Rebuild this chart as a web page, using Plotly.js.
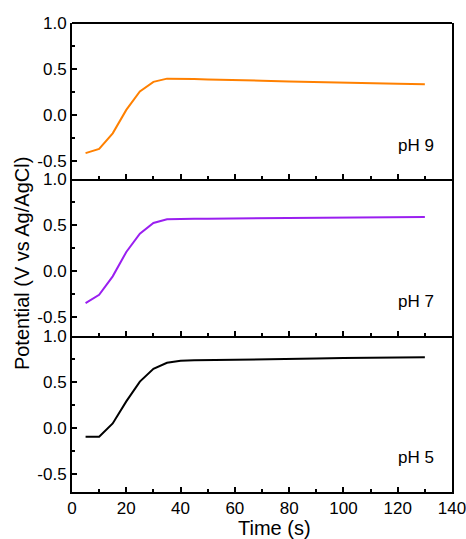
<!DOCTYPE html>
<html>
<head>
<meta charset="utf-8">
<script src="https://cdn.plot.ly/plotly-3.0.1.min.js"></script>
<style>html,body{margin:0;padding:0;background:#fff;}#chart{width:466px;height:539px;}</style>
</head>
<body>
<div id="chart"></div>
<script>
const time = [5, 10, 15, 20, 25, 30, 35, 40, 45, 50, 55, 60, 70, 80, 90, 100, 110, 120, 130];
const pH9 = [-0.415, -0.37, -0.2, 0.055, 0.255, 0.36, 0.395, 0.395, 0.39, 0.385, 0.38, 0.378, 0.372, 0.365, 0.357, 0.35, 0.345, 0.34, 0.335];
const pH7 = [-0.345, -0.255, -0.055, 0.21, 0.41, 0.525, 0.565, 0.572, 0.572, 0.572, 0.573, 0.573, 0.575, 0.578, 0.582, 0.585, 0.587, 0.589, 0.59];
const pH5 = [-0.1, -0.1, 0.045, 0.285, 0.5, 0.64, 0.705, 0.728, 0.732, 0.735, 0.737, 0.739, 0.743, 0.748, 0.752, 0.756, 0.759, 0.762, 0.764];
const panelLabels = ['pH 9', 'pH 7', 'pH 5'];
const yTickVals = [-0.5, 0, 0.5, 1.0];
const yTickText = ['-0.5', '0.0', '0.5', '1.0'];
const yMinorVals = [-0.25, 0.25, 0.75];
const xTickVals = [0, 20, 40, 60, 80, 100, 120, 140];
const xMinorVals = [10, 30, 50, 70, 90, 110, 130];
const colors = ['#ff8000', '#9a1ff0', '#000000'];

const FONT = 'Liberation Sans, Arial, sans-serif';
const series = [pH9, pH7, pH5];
const traces = series.map((s, i) => ({
  x: time, y: s, type: 'scatter', mode: 'lines',
  line: {color: colors[i], width: 2},
  xaxis: i === 2 ? 'x' : 'x' + (3 - i),
  yaxis: i === 2 ? 'y' : 'y' + (3 - i),
  showlegend: false, hoverinfo: 'skip'
}));

function xAx(anchor, showLabels) {
  return {
    anchor: anchor, range: [0, 140], domain: [0, 1],
    tickmode: 'array', tickvals: xTickVals, ticktext: xTickVals.map(String),
    showticklabels: showLabels, ticklabeloverflow: 'allow',
    ticks: 'inside', ticklen: 5, tickwidth: 2, tickcolor: '#000',
    minor: {tickmode: 'array', tickvals: xMinorVals, ticks: 'inside', ticklen: 3, tickwidth: 2, tickcolor: '#000'},
    showline: true, linewidth: 2, linecolor: '#000', mirror: false,
    showgrid: false, zeroline: false,
    tickfont: {family: FONT, size: 17, color: '#000'},
    fixedrange: true
  };
}
function yAx(domain, anchor) {
  return {
    anchor: anchor, domain: domain, range: [-0.7, 1.0],
    tickmode: 'array', tickvals: yTickVals, ticktext: yTickText,
    ticks: 'inside', ticklen: 5, tickwidth: 2, tickcolor: '#000',
    minor: {tickmode: 'array', tickvals: yMinorVals, ticks: 'inside', ticklen: 3, tickwidth: 2, tickcolor: '#000'},
    showline: true, linewidth: 2, linecolor: '#000', mirror: true,
    showgrid: false, zeroline: false,
    tickfont: {family: FONT, size: 17, color: '#000'},
    fixedrange: true
  };
}

const annotations = panelLabels.map((t, i) => ({
  text: t, xref: i === 2 ? 'x' : 'x' + (3 - i), yref: i === 2 ? 'y' : 'y' + (3 - i),
  x: 134, y: -0.33, xanchor: 'right', yanchor: 'middle', showarrow: false,
  font: {family: FONT, size: 17, color: '#000'}
}));
annotations.push({
  text: 'Time (s)', xref: 'paper', yref: 'paper', x: 0.534, y: 0, yshift: -36,
  xanchor: 'center', yanchor: 'middle', showarrow: false,
  font: {family: FONT, size: 20, color: '#000'}
});
annotations.push({
  text: 'Potential (V vs Ag/AgCl)', xref: 'paper', yref: 'paper', x: -0.1316, y: 0.488,
  xanchor: 'center', yanchor: 'middle', textangle: -90, showarrow: false,
  font: {family: FONT, size: 20, color: '#000'}
});

const layout = {
  width: 466, height: 539,
  margin: {l: 72, r: 14, t: 23, b: 47},
  paper_bgcolor: '#fff', plot_bgcolor: '#fff',
  xaxis: xAx('y', true),
  xaxis2: Object.assign(xAx('y2', false), {matches: 'x'}),
  xaxis3: Object.assign(xAx('y3', false), {matches: 'x'}),
  yaxis: yAx([0, 1/3], 'x'),
  yaxis2: yAx([1/3, 2/3], 'x2'),
  yaxis3: yAx([2/3, 1], 'x3'),
  shapes: [{type: 'line', xref: 'paper', yref: 'paper', x0: 0, x1: 1, y0: 1, y1: 1, line: {color: '#000', width: 2}}],
  annotations: annotations
};

Plotly.newPlot('chart', traces, layout, {displayModeBar: false, staticPlot: true});
</script>
</body>
</html>
